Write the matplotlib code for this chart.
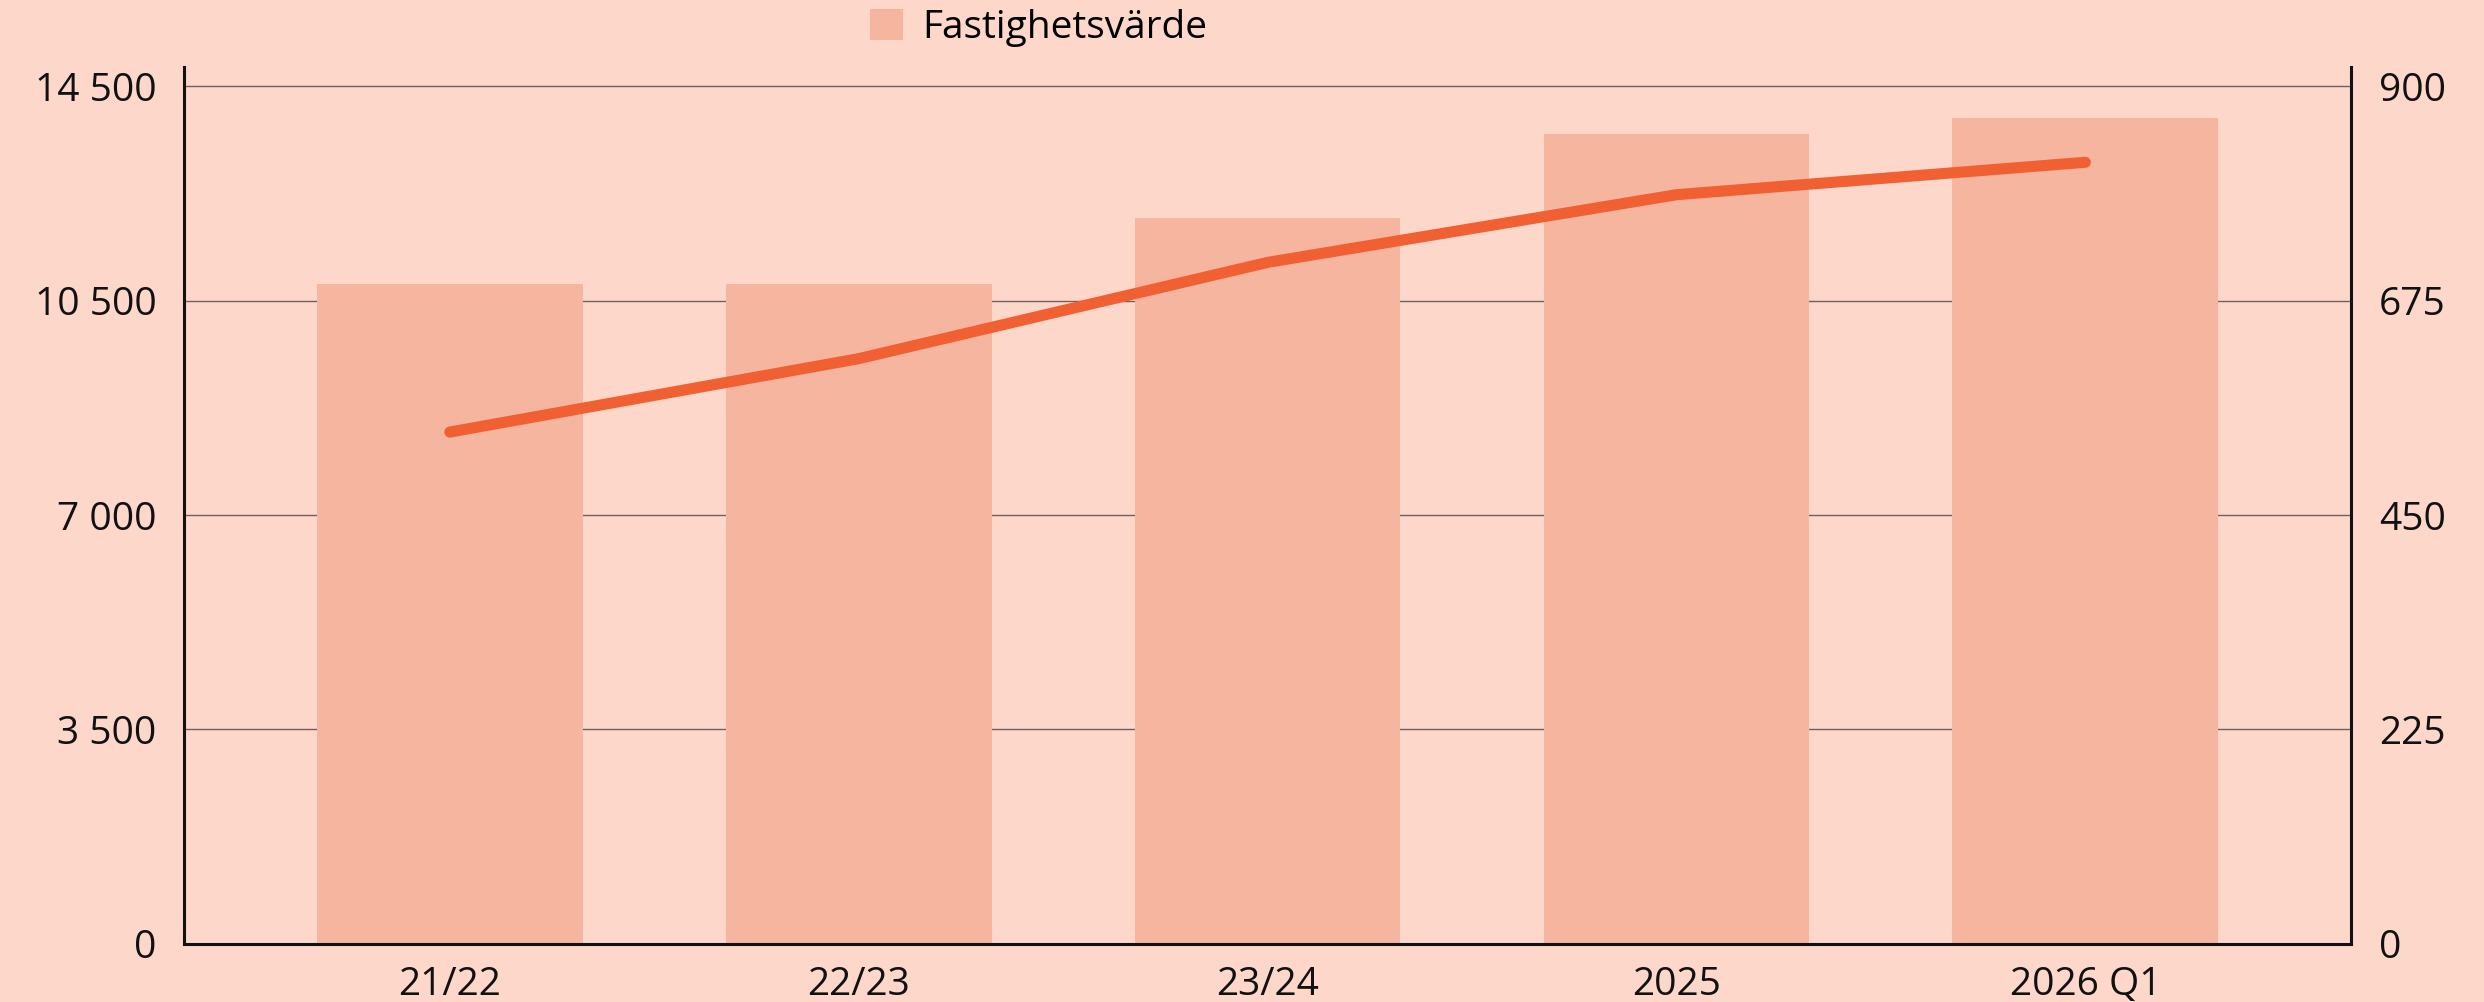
import matplotlib
matplotlib.use("Agg")
import matplotlib.pyplot as plt
from matplotlib.patches import Patch
import numpy as np

categories = ["21/22", "22/23", "23/24", "2025", "2026 Q1"]
fastighetsvarde = [11150, 11150, 12270, 13690, 13960]
line_values = [537, 614, 715, 786, 820]
left_ticks = [0, 3625, 7250, 10875, 14500]
left_ticklabels = ["0", "3 500", "7 000", "10 500", "14 500"]
right_ticks = [0, 225, 450, 675, 900]
right_ticklabels = ["0", "225", "450", "675", "900"]

BG = "#FCD7CA"
BAR = "#F6B59F"
LINE = "#F06033"

plt.rcParams['font.family'] = ['Open Sans', 'DejaVu Sans']

fig = plt.figure(figsize=(12.42, 5.01), dpi=200, facecolor=BG)
ax = fig.add_axes([0.0741, 0.0579, 0.8724, 0.8752])
ax.set_facecolor(BG)
x = np.arange(len(categories))

ax.set_axisbelow(True)
ax.bar(x, fastighetsvarde, width=0.65, color=BAR, zorder=2)
ax.set_xlim(-0.65, len(categories) - 1 + 0.65)
ax.set_ylim(0, 14500 * 877 / 858)
ax.set_yticks(left_ticks)
ax.set_yticklabels(left_ticklabels)
ax.yaxis.grid(True, color="#6e605c", linewidth=0.5, zorder=1)
ax.set_xticks(x)
ax.set_xticklabels(categories)
ax.tick_params(axis="both", length=0, labelsize=14, colors="#111111")
ax.tick_params(axis="y", pad=10)
ax.tick_params(axis="x", pad=8)
for s in ["left", "bottom"]:
    ax.spines[s].set_linewidth(1.1)
    ax.spines[s].set_color("#111111")
ax.spines["top"].set_visible(False)
ax.spines["right"].set_visible(False)

ax2 = ax.twinx()
ax2.plot(x, line_values, color=LINE, linewidth=4.0, solid_capstyle="round", zorder=3)
ax2.set_ylim(0, 900 * 877 / 858)
ax2.set_yticks(right_ticks)
ax2.set_yticklabels(right_ticklabels)
ax2.tick_params(axis="y", length=0, labelsize=14, pad=10, colors="#111111")
ax2.spines["right"].set_linewidth(1.1)
ax2.spines["right"].set_color("#111111")
for s in ["top", "left", "bottom"]:
    ax2.spines[s].set_visible(False)

fig.legend(handles=[Patch(facecolor=BAR, edgecolor="none", label="Fastighetsvärde")],
           loc="center left", bbox_to_anchor=(0.336, 0.972), frameon=False,
           fontsize=14, handlelength=0.85, handleheight=0.85, handletextpad=0.5)

fig.savefig("out.png", dpi=200, facecolor=BG)
